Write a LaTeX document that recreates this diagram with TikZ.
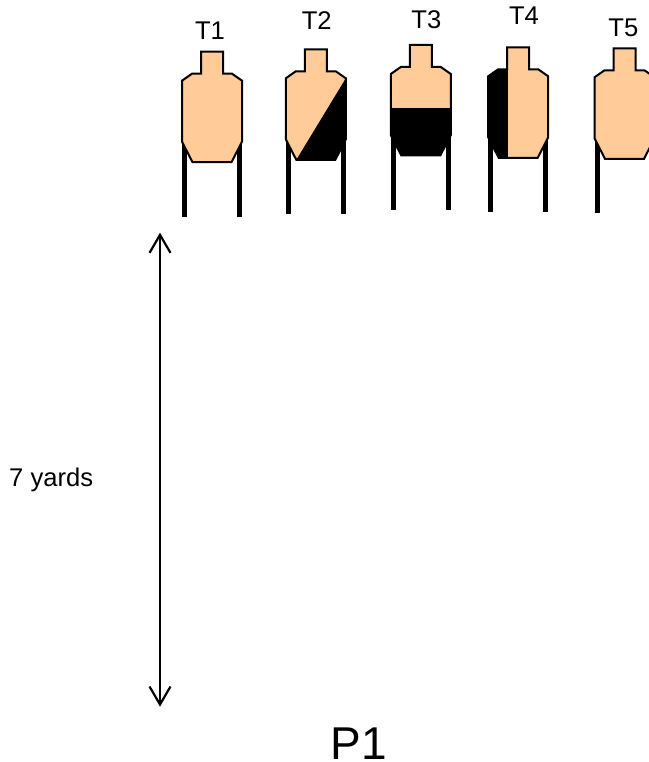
\documentclass[tikz,border=0pt]{standalone}
\usepackage{fontspec}
\setmainfont{Liberation Sans}
\usetikzlibrary{arrows.meta}
\definecolor{skin}{HTML}{FFCC99}
\tikzset{
    outline/.style = {line width = 2pt, line join = miter},
    leg/.style = {line width = 5pt},
    tlabel/.style = {inner sep = 0pt, font = \fontsize{25.6}{30}\selectfont},
}
% silhouette of one target, head top centre at (0,0)
\newcommand{\silhouette}{(-11,0) -- (11,0) -- (11,22) -- (20,22) -- (30,29) -- (30,90) -- (19.5,110.5) -- (-19.5,110.5) -- (-30,90) -- (-30,29) -- (-20,22) -- (-11,22) -- cycle}
% #1,#2: head top centre, #3: black part
\newcommand{\drawtarget}[3]{%
    \begin{scope}[shift = {(#1,#2)}]
        \draw [leg] (-27.5, 88) -- (-27.5, 165);
        \draw [leg] (27.5, 88) -- (27.5, 165);
        \fill [skin] \silhouette;
        \begin{scope}
            \clip \silhouette;
            #3
        \end{scope}
        \draw [outline] \silhouette;
    \end{scope}}
\begin{document}
\begin{tikzpicture}[x = 1pt, y = -1pt]
        \useasboundingbox (0, 0) rectangle (648, 762);
        \drawtarget{212}{51.7}{}
        \drawtarget{315.8}{49.3}{\fill (30, 29) -- (-19.5, 110.5) -- (40, 112) -- (40, 29) -- cycle;}
        \drawtarget{420.8}{45}{\fill (-40, 63.3) rectangle (40, 115);}
        \drawtarget{518.2}{47.3}{\fill (-40, 20) rectangle (-10, 115);}
        \drawtarget{624.5}{48.3}{}
        \node [tlabel] (t1) at (210, 30.8) {T1};
        \node [tlabel] (t2) at (316.7, 20.8) {T2};
        \node [tlabel] (t3) at (426.3, 19.2) {T3};
        \node [tlabel] (t4) at (524, 15.5) {T4};
        \node [tlabel] (t5) at (623.3, 27.5) {T5};
        \coordinate (near) at (160, 232.7);
        \coordinate (far) at (160, 706.7);
        \draw [line width = 2.2pt, {Straight Barb[length = 18pt, width = 21pt]}-{Straight Barb[length = 18pt, width = 21pt]}] (near) -- (far);
        \node [tlabel, anchor = base west] (dist) at (9, 486.7) {7 yards};
        \node [inner sep = 0pt, anchor = base west, font = \fontsize{46}{50}\selectfont] (p1) at (330.5, 759) {P1};
    \end{tikzpicture}
\end{document}
